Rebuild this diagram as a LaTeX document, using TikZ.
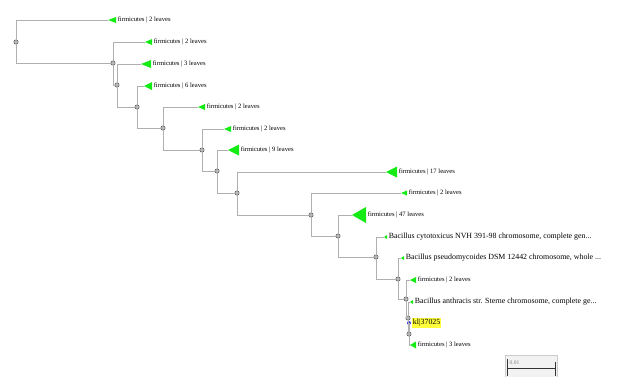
\documentclass[tikz,border=0pt]{standalone}
\usepackage{fontspec}
\setmainfont{Liberation Serif}
\usetikzlibrary{positioning}
\definecolor{cladegreen}{RGB}{20,235,20}
\definecolor{branchgray}{RGB}{175,175,175}
\definecolor{hilite}{RGB}{255,255,60}
\definecolor{seqblue}{RGB}{60,60,230}
\tikzset{
  branch/.style={draw=branchgray, line width=0.75pt},
  inode/.style={circle, draw=gray!60!black, fill=gray!55, line width=0.4pt, inner sep=0pt, minimum size=4.4pt},
  lab/.style={anchor=west, inner sep=0.6pt, font=\fontsize{6.6}{8}\selectfont},
  seqlab/.style={lab, font=\fontsize{7.9}{9}\selectfont},
}
\begin{document}
\begin{tikzpicture}[x=1pt,y=-1pt]
\useasboundingbox (0,0) rectangle (634,376);
%nodi interni
\node[inode] (n0) at (16,42) {};
\node[inode] (n1) at (113,63) {};
\node[inode] (n2) at (117,85) {};
\node[inode] (n3) at (137,107) {};
\node[inode] (n4) at (163,128) {};
\node[inode] (n5) at (202,150) {};
\node[inode] (n6) at (217,171) {};
\node[inode] (n7) at (237,193) {};
\node[inode] (n8) at (311,215) {};
\node[inode] (n9) at (338,236) {};
\node[inode] (n10) at (376,257) {};
\node[inode] (n11) at (398,279) {};
\node[inode] (n12) at (406,299) {};
\node[inode] (n13) at (408,318) {};
\node[inode] (n14) at (409,334) {};
%cladi
\foreach \i/\x/\y/\w/\h/\n in {1/108/20/8/3/2, 2/145/42/7/3/2, 3/141/64/10/4/3,
    4/144/86/8/4/6, 5/198/107/7/3/2, 6/224/129/7/3/2, 7/228/150/11/5.5/9,
    8/386/172/11/5.5/17, 9/401/193/6/2.5/2, 10/352/215/14/8/47,
    13/410/280/6/3/2, 16/410/345/6/3.5/3} {
  \coordinate (t\i) at (\x,\y);
  \fill[cladegreen] (t\i) -- ++(\w,-\h) -- ++(0,2*\h) -- cycle;
  \node[lab] (l\i) at (\x+\w+1,\y) {firmicutes | \n\ leaves};
}
%sequenze
\foreach \i/\x/\y/\t in {11/384/237/{Bacillus cytotoxicus NVH 391-98 chromosome, complete gen...},
    12/401/258/{Bacillus pseudomycoides DSM 12442 chromosome, whole ...},
    14/410/302/{Bacillus anthracis str. Sterne chromosome, complete ge...}} {
  \coordinate (t\i) at (\x,\y);
  \fill[cladegreen] (t\i) -- ++(3,-2) -- ++(0,4) -- cycle;
  \node[seqlab] (l\i) at (\x+4,\y) {\t};
}
\node[circle, fill=seqblue, inner sep=0pt, minimum size=4pt] (t15) at (409,323) {};
\node[seqlab, fill=hilite, inner sep=1pt, right=0.5pt of t15] (l15) {kl|37025};
%rami
\foreach \p/\c in {n0/t1, n0/n1, n1/t2, n1/n2, n2/t3, n2/n3, n3/t4, n3/n4,
    n4/t5, n4/n5, n5/t6, n5/n6, n6/t7, n6/n7, n7/t8, n7/n8, n8/t9, n8/n9,
    n9/t10, n9/n10, n10/t11, n10/n11, n11/t12, n11/n12, n12/t13, n12/n13,
    n13/t14, n13/n14, n14/t15, n14/t16}
  \draw[branch] (\p) |- (\c);
%scala
\draw[gray!40, fill=gray!10] (505,355) rectangle (557,377);
\coordinate (sa) at (507,368);
\coordinate (sb) at (555,368);
\draw[gray!40!black, line width=0.9pt] (sa) -- (sb);
\draw[gray!40!black, line width=0.9pt] (sa) ++(0,-9) -- ++(0,17) (sb) ++(0,-6) -- ++(0,14);
\node[font=\fontsize{5.5}{6}\selectfont, text=gray, anchor=south west, inner sep=0.5pt] (sl) at (509,365) {0.01};
\end{tikzpicture}
\end{document}
